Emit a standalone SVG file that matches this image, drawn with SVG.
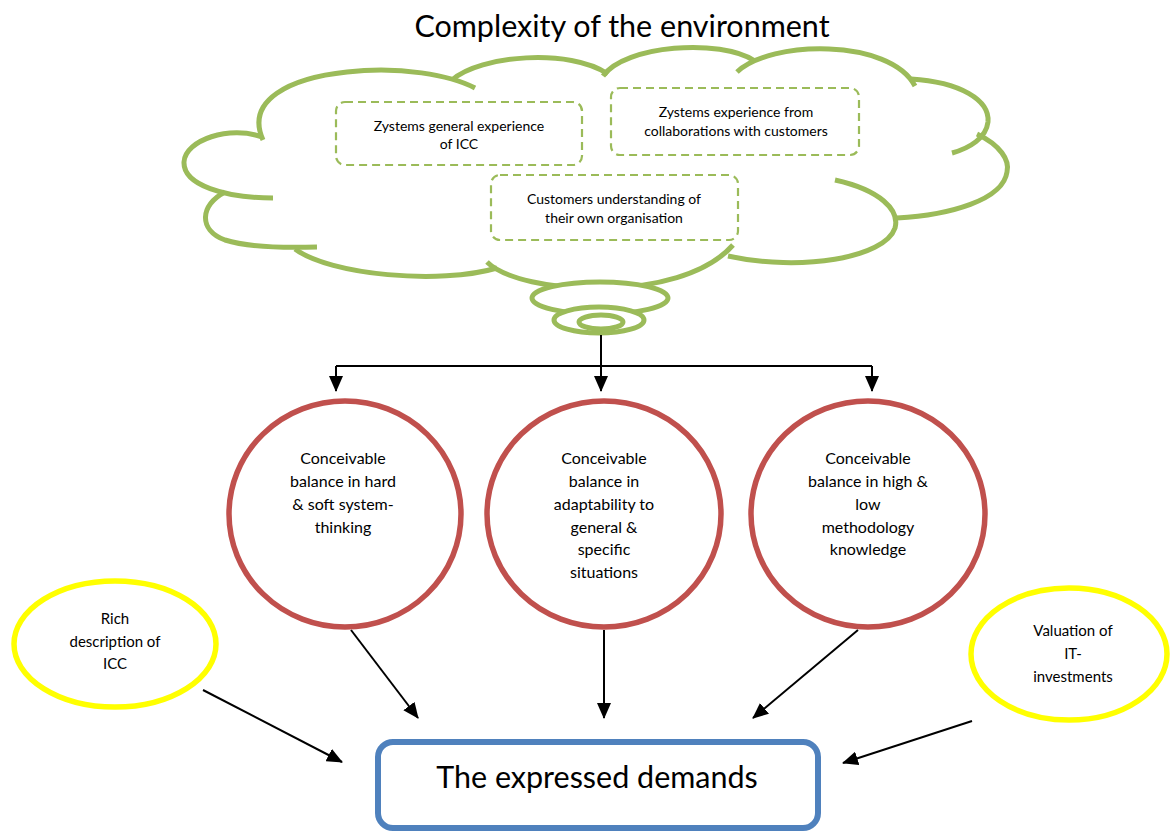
<svg xmlns="http://www.w3.org/2000/svg" width="1170" height="831" viewBox="0 0 1170 831">
  <style>
    .txt { font-family: Lato, "Open Sans", "Liberation Sans", sans-serif; fill: #000; text-anchor: middle; }
    .cloud { fill: none; stroke: #9BBB59; stroke-width: 5; stroke-linecap: butt; }
    .bubble { fill: #fff; stroke: #9BBB59; stroke-width: 5; }
    .idea { fill: none; stroke: #9BBB59; stroke-width: 2.2; stroke-dasharray: 8 5; }
    .balance { fill: #fff; stroke: #C0504D; stroke-width: 5.5; }
    .side { fill: #fff; stroke: #FFFF00; stroke-width: 5.5; }
    .result { fill: #fff; stroke: #4F81BD; stroke-width: 6; }
    .link { fill: none; stroke: #000; stroke-width: 2; }
  </style>
  <defs>
    <marker id="head" viewBox="0 0 16 14" refX="15" refY="7" markerWidth="16" markerHeight="14" markerUnits="userSpaceOnUse" orient="auto">
      <path d="M0,0 L16,7 L0,14 z" fill="#000"/>
    </marker>
  </defs>

  <rect width="1170" height="831" fill="#fff"/>

  <text class="txt" x="622" y="37" font-size="30.5">Complexity of the environment</text>

  <!-- thought cloud -->
  <g id="cloud">
    <path class="cloud" d="M263,140 C245,100 290,78 347,72 C400,66 450,75 475,88"/>
    <path class="cloud" d="M452,80 C480,55 570,48 608,74"/>
    <path class="cloud" d="M603,76 C625,45 720,38 755,61"/>
    <path class="cloud" d="M737,72 C770,40 890,38 915,86"/>
    <path class="cloud" d="M911,79 C960,82 990,100 988,122 C986,138 970,148 952,153"/>
    <path class="cloud" d="M977,134 C1000,145 1010,160 1007,172 C1003,200 950,215 897,218"/>
    <path class="cloud" d="M835,180 C880,190 900,210 895,228 C885,258 800,272 728,256"/>
    <path class="cloud" d="M487,262 C520,295 680,305 733,245"/>
    <path class="cloud" d="M295,249 C330,275 440,285 497,268"/>
    <path class="cloud" d="M225,192 C200,205 198,230 225,240 C250,248 285,248 317,247"/>
    <path class="cloud" d="M262,137 C230,125 185,140 184,162 C183,185 225,198 273,198"/>
    <ellipse class="bubble" cx="600" cy="298" rx="68" ry="16"/>
    <ellipse class="bubble" cx="599" cy="320" rx="45" ry="13"/>
    <ellipse class="bubble" cx="601" cy="322" rx="22" ry="7"/>
  </g>

  <g id="idea-general">
    <rect class="idea" x="336" y="102" width="246" height="63" rx="9"/>
    <text class="txt" font-size="14"><tspan x="459" y="131">Zystems general experience</tspan><tspan x="459" y="149">of ICC</tspan></text>
  </g>
  <g id="idea-collaborations">
    <rect class="idea" x="611" y="88" width="248" height="67" rx="9"/>
    <text class="txt" font-size="14"><tspan x="736" y="117">Zystems experience from</tspan><tspan x="736" y="136">collaborations with customers</tspan></text>
  </g>
  <g id="idea-customers">
    <rect class="idea" x="491" y="175" width="247" height="65" rx="9"/>
    <text class="txt" font-size="14"><tspan x="614" y="204">Customers understanding of</tspan><tspan x="614" y="223">their own organisation</tspan></text>
  </g>

  <!-- balances -->
  <g id="balance-systems">
    <ellipse class="balance" cx="345" cy="514" rx="116" ry="113"/>
    <text class="txt" font-size="16"><tspan x="343" y="464">Conceivable</tspan><tspan x="343" y="487">balance in hard</tspan><tspan x="343" y="510">&amp; soft system-</tspan><tspan x="343" y="533">thinking</tspan></text>
  </g>
  <g id="balance-adaptability">
    <ellipse class="balance" cx="604" cy="514" rx="117" ry="113"/>
    <text class="txt" font-size="16"><tspan x="604" y="464">Conceivable</tspan><tspan x="604" y="487">balance in</tspan><tspan x="604" y="510">adaptability to</tspan><tspan x="604" y="533">general &amp;</tspan><tspan x="604" y="555">specific</tspan><tspan x="604" y="578">situations</tspan></text>
  </g>
  <g id="balance-methodology">
    <ellipse class="balance" cx="868" cy="514" rx="117" ry="113"/>
    <text class="txt" font-size="16"><tspan x="868" y="464">Conceivable</tspan><tspan x="868" y="487">balance in high &amp;</tspan><tspan x="868" y="510">low</tspan><tspan x="868" y="533">methodology</tspan><tspan x="868" y="555">knowledge</tspan></text>
  </g>

  <g id="rich-description">
    <ellipse class="side" cx="115" cy="644" rx="101" ry="63"/>
    <text class="txt" font-size="15"><tspan x="115" y="624">Rich</tspan><tspan x="115" y="647">description of</tspan><tspan x="115" y="669">ICC</tspan></text>
  </g>
  <g id="valuation">
    <ellipse class="side" cx="1069" cy="654" rx="98" ry="66"/>
    <text class="txt" font-size="15"><tspan x="1073" y="636">Valuation of</tspan><tspan x="1073" y="659">IT-</tspan><tspan x="1073" y="682">investments</tspan></text>
  </g>

  <g id="expressed-demands">
    <rect class="result" x="378" y="742" width="440" height="86" rx="15"/>
    <text class="txt" x="597" y="788" font-size="30.5">The expressed demands</text>
  </g>

  <g id="connectors">
    <path class="link" d="M601,335 V366 M336,366 H872"/>
    <path class="link" d="M336,366 V391" marker-end="url(#head)"/>
    <path class="link" d="M601,366 V391" marker-end="url(#head)"/>
    <path class="link" d="M872,366 V391" marker-end="url(#head)"/>
    <path class="link" d="M351,630 L418,718" marker-end="url(#head)"/>
    <path class="link" d="M604,630 L604,718" marker-end="url(#head)"/>
    <path class="link" d="M858,630 L753,718" marker-end="url(#head)"/>
    <path class="link" d="M203,690 L342,762" marker-end="url(#head)"/>
    <path class="link" d="M972,721 L843,763" marker-end="url(#head)"/>
  </g>
</svg>
